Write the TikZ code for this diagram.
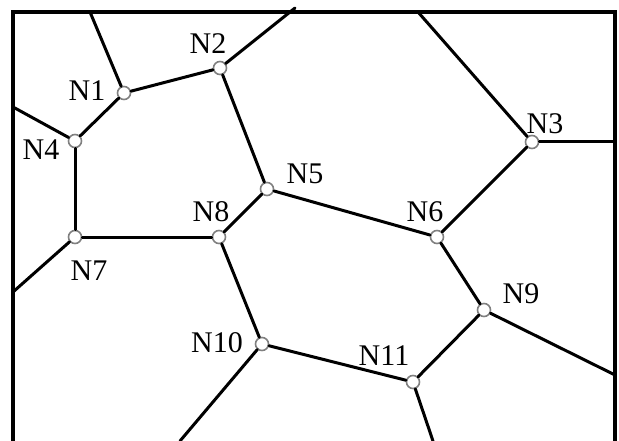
\documentclass[tikz,border=0pt]{standalone}
\usepackage{fontspec}
\setmainfont{Liberation Serif}
\begin{document}
\begin{tikzpicture}[x=1pt,y=-1pt,
  vtx/.style={circle,draw=black!50,fill=white,line width=1.6pt,minimum size=13pt,inner sep=0pt},
  lab/.style={font=\fontsize{30}{30}\selectfont,inner sep=0pt},
  edge/.style={line width=3pt,line cap=round},
  frame/.style={line width=3.2pt}]
\useasboundingbox (0,0) rectangle (619,441);
% frame
\draw[frame] (13,441) -- (13,12) -- (615,12) -- (615,441);
% free ends
\coordinate (t1) at (90,12);
\coordinate (t2) at (295,8);
\coordinate (t3) at (418,12);
\coordinate (l1) at (13,107);
\coordinate (l2) at (13,292);
\coordinate (r1) at (615,142);
\coordinate (r2) at (615,375);
\coordinate (b1) at (180,441);
\coordinate (b2) at (433,441);
% nodes
\node[vtx] (n1) at (124,93) {};
\node[vtx] (n2) at (220,68) {};
\node[vtx] (n3) at (532,142) {};
\node[vtx] (n4) at (75,141) {};
\node[vtx] (n5) at (267,189) {};
\node[vtx] (n6) at (437,237) {};
\node[vtx] (n7) at (75,237) {};
\node[vtx] (n8) at (219,237) {};
\node[vtx] (n9) at (484,310) {};
\node[vtx] (n10) at (262,344) {};
\node[vtx] (n11) at (413,382) {};
% labels
\node[lab] at (87,91) {N1};
\node[lab] at (208,44) {N2};
\node[lab] at (545,124) {N3};
\node[lab] at (41,150) {N4};
\node[lab] at (305,174) {N5};
\node[lab] at (425,212) {N6};
\node[lab] at (89,271) {N7};
\node[lab] at (211,212) {N8};
\node[lab] at (521,294) {N9};
\node[lab] at (217,343) {N10};
\node[lab] at (384,356) {N11};
% edges
\draw[edge] (n1) -- (t1);
\draw[edge] (n1) -- (n2);
\draw[edge] (n2) -- (t2);
\draw[edge] (n1) -- (n4);
\draw[edge] (n4) -- (l1);
\draw[edge] (n4) -- (n7);
\draw[edge] (n7) -- (l2);
\draw[edge] (n7) -- (n8);
\draw[edge] (n2) -- (n5);
\draw[edge] (n5) -- (n8);
\draw[edge] (n5) -- (n6);
\draw[edge] (n3) -- (t3);
\draw[edge] (n3) -- (r1);
\draw[edge] (n3) -- (n6);
\draw[edge] (n6) -- (n9);
\draw[edge] (n8) -- (n10);
\draw[edge] (n10) -- (n11);
\draw[edge] (n10) -- (b1);
\draw[edge] (n9) -- (n11);
\draw[edge] (n9) -- (r2);
\draw[edge] (n11) -- (b2);
\end{tikzpicture}
\end{document}
